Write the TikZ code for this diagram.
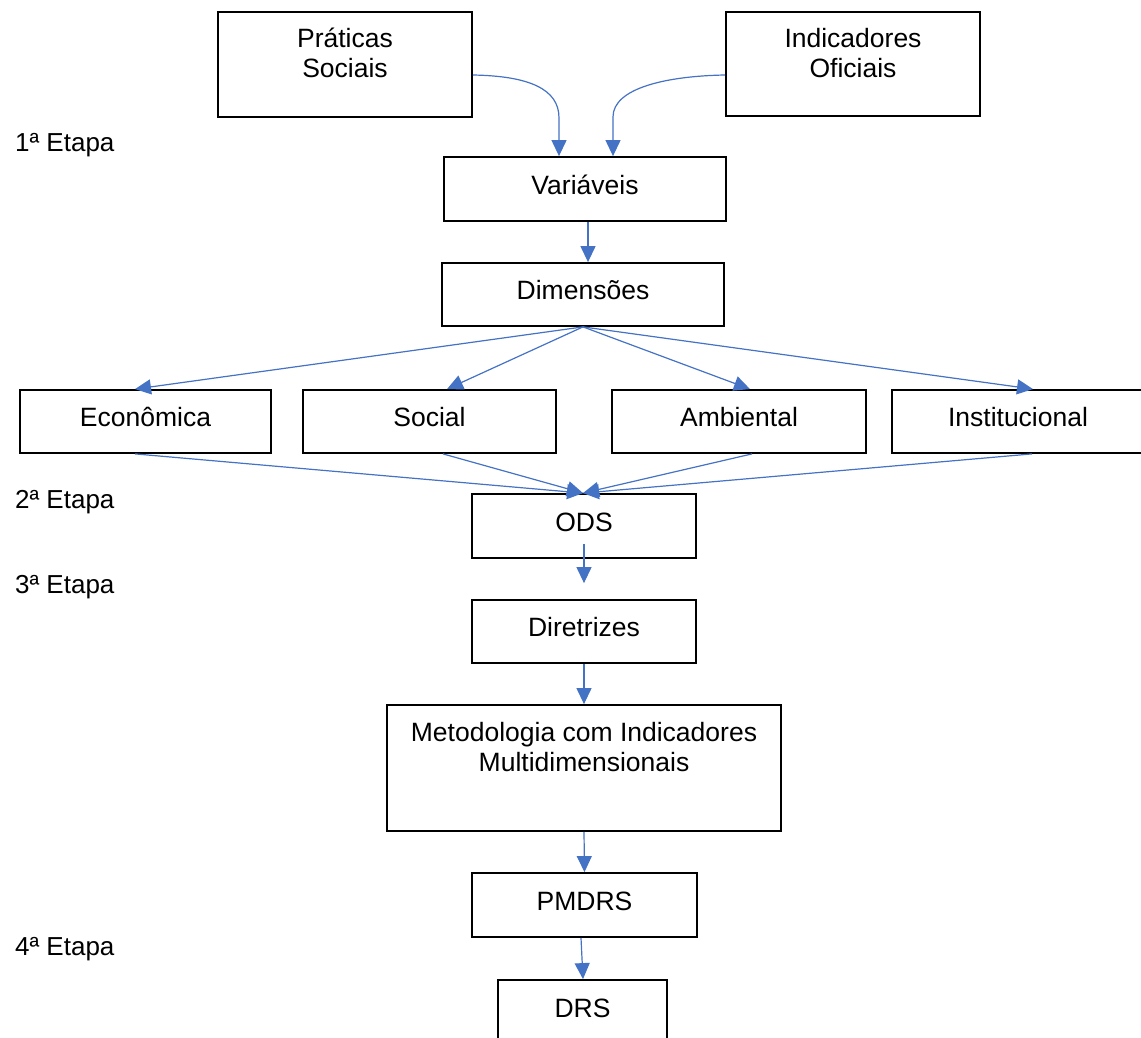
\documentclass[tikz,border=0pt]{standalone}
\usepackage{fontspec}
\setmainfont{Liberation Sans}
\usetikzlibrary{arrows.meta}
\definecolor{flowblue}{RGB}{68,114,196}
\tikzset{
  txt/.style={font=\fontsize{26.5}{30}\selectfont, inner sep=0pt},
  box/.style={txt, draw=black, line width=1.8pt, text height=18pt, text depth=8pt},
  stage/.style={font=\fontsize{26}{30}\selectfont, inner sep=0pt, anchor=base west},
  line/.style={txt, anchor=base},
  flow/.style={draw=flowblue, line width=1.2pt, -{Triangle[length=16pt,width=15pt]}},
}
\begin{document}
\begin{tikzpicture}[x=1pt,y=-1pt]
\clip (0,0) rectangle (1141,1038);

% stage labels on the left
\node[stage] (st1) at (15,152) {1ª Etapa};
\node[stage] (st2) at (15,508) {2ª Etapa};
\node[stage] (st3) at (15,593) {3ª Etapa};
\node[stage] (st4) at (15,955) {4ª Etapa};

% sources
\node[box, minimum width=254pt, minimum height=105pt] (prat) at (345,64.5) {};
\node[line] (pratA) at (345,48) {Práticas};
\node[line] (pratB) at (345,78) {Sociais};
\node[box, minimum width=254pt, minimum height=104pt] (ind) at (853,64) {};
\node[line] (indA) at (853,48) {Indicadores};
\node[line] (indB) at (853,78) {Oficiais};

% main chain
\node[box, minimum width=282pt, minimum height=64pt] (var) at (585,189) {Variáveis};
\node[box, minimum width=282pt, minimum height=63pt] (dim) at (583,294.5) {Dimensões};

% dimensions
\node[box, minimum width=251pt, minimum height=63pt] (eco) at (145.5,421.5) {Econômica};
\node[box, minimum width=253pt, minimum height=63pt] (soc) at (429.5,421.5) {Social};
\node[box, minimum width=254pt, minimum height=63pt] (amb) at (739,421.5) {Ambiental};
\node[box, minimum width=252pt, minimum height=63pt] (inst) at (1018,421.5) {Institucional};

\node[box, minimum width=224pt, minimum height=64pt] (ods) at (584,526) {ODS};
\node[box, minimum width=224pt, minimum height=63pt] (dir) at (584,631.5) {Diretrizes};

\node[box, minimum width=394pt, minimum height=126pt] (met) at (584,768) {};
\node[line] (metA) at (584,741) {Metodologia com Indicadores};
\node[line] (metB) at (584,771) {Multidimensionais};

\node[box, minimum width=225pt, minimum height=64pt] (pmd) at (584.5,905) {PMDRS};
\node[box, minimum width=169pt, minimum height=64pt] (drs) at (582.5,1012) {DRS};

% connectors
\coordinate (pin1) at ([xshift=-26pt]var.north);
\coordinate (pin2) at ([xshift=28pt]var.north);
\draw[flow] ([yshift=-10.5pt]prat.east) .. controls +(56,1) and +(0,-29) .. (pin1 |- prat.south) -- (pin1);
\draw[flow] ([yshift=-11pt]ind.west) .. controls +(-58,1) and +(0,-29) .. (pin2 |- ind.south) -- (pin2);

\coordinate (vd) at ([xshift=3pt]var.south);
\draw[flow] (vd) -- (vd |- dim.north);

\draw[flow] (dim.south) -- ([xshift=-10.5pt]eco.north);
\draw[flow] (dim.south) -- ([xshift=17.5pt]soc.north);
\draw[flow] (dim.south) -- ([xshift=11pt]amb.north);
\draw[flow] (dim.south) -- ([xshift=15pt]inst.north);

\draw[flow] ([xshift=-10.5pt]eco.south) -- ([xshift=-1pt]ods.north);
\draw[flow] ([xshift=13.5pt]soc.south) -- ([xshift=-1pt]ods.north);
\draw[flow] ([xshift=13pt]amb.south) -- ([xshift=-1pt]ods.north);
\draw[flow] ([xshift=14pt]inst.south) -- ([xshift=-1pt]ods.north);

\draw[flow] ([yshift=15pt]ods.south) -- ([yshift=16pt]dir.north);
\draw[flow] (dir.south) -- (met.north);
\draw[flow] (met.south) -- (pmd.north);
\draw[flow] ([xshift=-3.5pt]pmd.south) -- ([xshift=0.5pt]drs.north);
\end{tikzpicture}
\end{document}
